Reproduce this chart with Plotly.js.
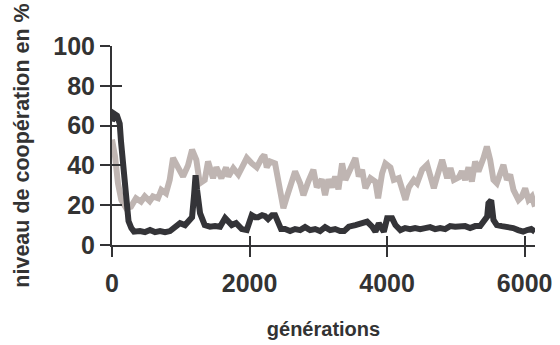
<!DOCTYPE html>
<html>
<head>
<meta charset="utf-8">
<script src="https://cdn.plot.ly/plotly-3.0.1.min.js"></script>
<style>html,body{margin:0;padding:0;background:#fff;}#chart{width:560px;height:345px;}</style>
</head>
<body>
<div id="chart"></div>
<script>
// Light series (grey)
const lightGen = [0,29,44,87,135,204,276,349,422,476,548,596,669,717,785,839,887,960,1033,1105,1164,1226,1276,1348,1396,1469,1517,1590,1658,1692,1764,1837,1910,1959,2032,2105,2177,2215,2250,2298,2371,2419,2492,2541,2589,2662,2735,2783,2855,2928,2977,3050,3098,3146,3196,3244,3292,3345,3393,3466,3539,3588,3636,3684,3757,3830,3869,3927,3975,4048,4097,4170,4218,4266,4316,4388,4436,4509,4582,4630,4679,4727,4800,4873,4921,4970,5043,5086,5134,5183,5232,5280,5328,5401,5450,5498,5546,5595,5643,5691,5741,5789,5837,5910,5959,6007,6055,6104,6150];
const lightVal = [53,48,44.5,31,22.7,18.6,19.3,23.5,21.8,24.4,22,24.4,23.5,27.7,26,32.7,43.7,39,34.4,40,47.9,42.8,31,32.7,42,33.6,39,33.6,39,34.4,38.6,35.4,40.3,43.7,41,39,43.7,45.3,39,42,41,31,18.5,24,29,37,31,25,32,37.8,29,33,25,33,29,34.4,28,41,32.7,39,43.7,34.4,37.8,28.5,33.6,31.8,23.5,36,41,39,32.7,33.6,27.7,22.7,29,32.7,31,37.8,40.3,34.4,28.5,34.4,42.8,33.6,38.6,32.7,34,37,32.7,39,31.9,42,37,43.7,49.5,42.8,32.7,31,36,40.3,32.7,35.4,27.7,22.7,24.4,28.5,22.7,24.4,19.3];
// Dark series (black)
const darkGen = [0,29,73,112,131,160,208,240,281,320,407,480,553,625,698,771,844,912,989,1062,1105,1164,1193,1215,1236,1280,1348,1425,1498,1571,1644,1687,1741,1804,1887,1959,2032,2080,2124,2182,2225,2269,2327,2371,2415,2458,2516,2589,2662,2735,2807,2880,2953,3025,3098,3171,3244,3316,3375,3443,3539,3636,3709,3782,3830,3879,3952,4000,4073,4121,4193,4262,4334,4407,4480,4553,4625,4698,4771,4844,4916,4989,5062,5134,5207,5280,5353,5411,5455,5473,5513,5546,5595,5668,5760,5833,5905,5978,6036,6094,6150];
const darkVal = [62,66,65,61,52,39,19,12,8.5,6.7,7,6.5,7.5,6.5,7,6.5,7,9,11,10,11.5,14,25,35,28,16,10,9.2,9.5,9.2,13.6,12,10,11,8,7.5,15,14,14,15,14.5,13,15,15,11.7,8,8,7,8,7.5,9,7.5,8,7,9,7.5,8,7,7,9.2,10,10.9,11.7,9.2,6.7,10.9,6.7,13.4,13.4,10,7.5,8.5,8,8.5,8,8.5,9,8,8.5,8,9.5,9.2,9,9.5,8.5,9.5,9.5,11.7,14.3,21,22.5,12.6,10,9.5,9.2,8.5,7.5,6.7,7.5,8,6.7];

const xTicks = [0,2000,4000,6000];
const yTicks = [0,20,40,60,80,100];
const xTitle = 'générations';
const yTitle = 'niveau de coopération en %';

const axisColor = '#333335';
const fontFam = 'Liberation Sans, Arial, sans-serif';

const traces = [
  {x: lightGen, y: lightVal, type: 'scatter', mode: 'lines', line: {color: '#bfb5b2', width: 6}, hoverinfo: 'skip', showlegend: false},
  {x: darkGen, y: darkVal, type: 'scatter', mode: 'lines', line: {color: '#343438', width: 6}, hoverinfo: 'skip', showlegend: false},
  {x: [], y: [], xaxis: 'x2', yaxis: 'y2', type: 'scatter', mode: 'lines', hoverinfo: 'skip', showlegend: false}
];

const layout = {
  width: 560, height: 345,
  margin: {l: 112, r: 25, t: 46, b: 100},
  paper_bgcolor: '#ffffff', plot_bgcolor: '#ffffff',
  showlegend: false,
  font: {family: fontFam, color: '#333333'},
  xaxis: {
    range: [0, 6150], tickvals: xTicks, ticktext: xTicks.map(String),
    showgrid: false, zeroline: false, showline: true, linecolor: axisColor, linewidth: 2,
    ticks: 'outside', ticklen: 10, tickwidth: 2, tickcolor: axisColor, ticklabelstandoff: 5,
    tickfont: {family: fontFam, size: 25, weight: 'bold', color: '#333333'},
    title: {text: xTitle, font: {family: fontFam, size: 20, weight: 'bold', color: '#333333'}, standoff: 26},
    fixedrange: true
  },
  yaxis: {
    range: [0, 100], tickvals: yTicks, ticktext: yTicks.map(String),
    showgrid: false, zeroline: false, showline: true, linecolor: axisColor, linewidth: 2,
    ticks: 'outside', ticklen: 10, tickwidth: 2, tickcolor: axisColor,
    tickfont: {family: fontFam, size: 25, weight: 'bold', color: '#333333'},
    title: {text: yTitle, font: {family: fontFam, size: 21.5, weight: 'bold', color: '#333333'}, standoff: 18},
    fixedrange: true
  },
  xaxis2: {
    overlaying: 'x', range: [0, 6150], tickvals: xTicks, showticklabels: false,
    showgrid: false, zeroline: false, showline: false,
    ticks: 'inside', ticklen: 9, tickwidth: 2, tickcolor: axisColor, fixedrange: true
  },
  yaxis2: {
    overlaying: 'y', range: [0, 100], tickvals: yTicks, showticklabels: false,
    showgrid: false, zeroline: false, showline: false,
    ticks: 'inside', ticklen: 10, tickwidth: 2, tickcolor: axisColor, fixedrange: true
  }
};

Plotly.newPlot('chart', traces, layout, {displayModeBar: false, staticPlot: true});
</script>
</body>
</html>
